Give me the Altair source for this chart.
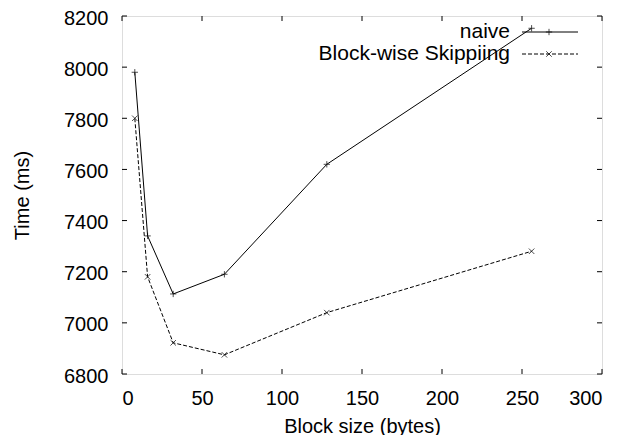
import altair as alt
import pandas as pd

block_sizes = [8, 16, 32, 64, 128, 256]
naive = [7980, 7340, 7113, 7190, 7620, 8152]
skipping = [7800, 7180, 6922, 6875, 7040, 7280]
series_names = ["naive", "Block-wise Skippiing"]
x_ticks = [0, 50, 100, 150, 200, 250, 300]
y_ticks = [6800, 7000, 7200, 7400, 7600, 7800, 8000, 8200]

W, H = 480, 358
FONT = "Liberation Sans"

df = pd.DataFrame({
    "x": block_sizes * 2,
    "y": naive + skipping,
    "s": [series_names[0]] * len(naive) + [series_names[1]] * len(skipping),
})
df_n = df[df.s == series_names[0]]
df_s = df[df.s == series_names[1]]

xs = alt.Scale(domain=[0, 300], nice=False)
ys = alt.Scale(domain=[6800, 8200], nice=False, zero=False)

xax = alt.Axis(values=x_ticks, format="d", ticks=False, grid=False, domain=False, labelFont=FONT,
               labelFontSize=20, labelColor="black", labelPadding=14,
               title="Block size (bytes)", titleFont=FONT, titleFontSize=20,
               titleFontWeight="normal", titleColor="black", titleY=52, titleBaseline="middle")
yax = alt.Axis(values=y_ticks, format="d", ticks=False, grid=False, domain=False, labelFont=FONT,
               labelFontSize=20, labelColor="black", labelPadding=14, labelOffset=2,
               title="Time (ms)", titleFont=FONT, titleFontSize=20,
               titleFontWeight="normal", titleColor="black", titleX=-100, titleBaseline="middle")

plus_path = "M-1,0L1,0M0,-1L0,1"
x_path = "M-1,-1L1,1M-1,1L1,-1"
DASH = [4, 2]

line_n = alt.Chart(df_n).mark_line(color="black", strokeWidth=1).encode(
    x=alt.X("x:Q", scale=xs, axis=xax), y=alt.Y("y:Q", scale=ys, axis=yax))
pts_n = alt.Chart(df_n).mark_point(shape=plus_path, size=40, color="black", filled=False, strokeWidth=1).encode(
    x=alt.X("x:Q", scale=xs), y=alt.Y("y:Q", scale=ys))
line_s = alt.Chart(df_s).mark_line(color="black", strokeWidth=1, strokeDash=DASH).encode(
    x=alt.X("x:Q", scale=xs), y=alt.Y("y:Q", scale=ys))
pts_s = alt.Chart(df_s).mark_point(shape=x_path, size=30, color="black", filled=False, strokeWidth=1).encode(
    x=alt.X("x:Q", scale=xs), y=alt.Y("y:Q", scale=ys))

xt = pd.DataFrame({"t": x_ticks})
yt = pd.DataFrame({"t": y_ticks})
xtick_b = alt.Chart(xt).mark_rule(color="black").encode(
    x=alt.X("t:Q", scale=xs), y=alt.value(H), y2=alt.value(H - 5))
xtick_t = alt.Chart(xt).mark_rule(color="black").encode(
    x=alt.X("t:Q", scale=xs), y=alt.value(0), y2=alt.value(5))
ytick_l = alt.Chart(yt).mark_rule(color="black").encode(
    y=alt.Y("t:Q", scale=ys), x=alt.value(0), x2=alt.value(5))
ytick_r = alt.Chart(yt).mark_rule(color="black").encode(
    y=alt.Y("t:Q", scale=ys), x=alt.value(W), x2=alt.value(W - 5))

leg = pd.DataFrame({"s": series_names})
leg_n = leg[leg.s == series_names[0]]
leg_s = leg[leg.s == series_names[1]]
leg_text_n = alt.Chart(leg_n).mark_text(align="right", baseline="middle", font=FONT, fontSize=21, color="black").encode(
    text="s:N", x=alt.value(388), y=alt.value(16))
leg_text_s = alt.Chart(leg_s).mark_text(align="right", baseline="middle", font=FONT, fontSize=21, color="black").encode(
    text="s:N", x=alt.value(388), y=alt.value(38))
leg_line_n = alt.Chart(leg_n).mark_rule(color="black", strokeWidth=1).encode(
    x=alt.value(400), x2=alt.value(456), y=alt.value(16))
leg_line_s = alt.Chart(leg_s).mark_rule(color="black", strokeWidth=1, strokeDash=DASH).encode(
    x=alt.value(400), x2=alt.value(456), y=alt.value(38))
leg_pt_n = alt.Chart(leg_n).mark_point(shape=plus_path, size=40, color="black", filled=False, strokeWidth=1).encode(
    x=alt.value(427), y=alt.value(16))
leg_pt_s = alt.Chart(leg_s).mark_point(shape=x_path, size=30, color="black", filled=False, strokeWidth=1).encode(
    x=alt.value(427), y=alt.value(38))

chart = alt.layer(
    line_n, line_s, pts_n, pts_s,
    xtick_b, xtick_t, ytick_l, ytick_r,
    leg_line_n, leg_line_s, leg_pt_n, leg_pt_s, leg_text_n, leg_text_s,
).properties(
    width=W, height=H,
    autosize=alt.AutoSizeParams(type="none"),
    padding={"left": 114, "top": 8, "right": 27, "bottom": 61},
).configure_view(stroke="black", strokeWidth=1.5).configure(background="white")

chart.save("out.html", embed_options={"renderer": "svg", "actions": False})
